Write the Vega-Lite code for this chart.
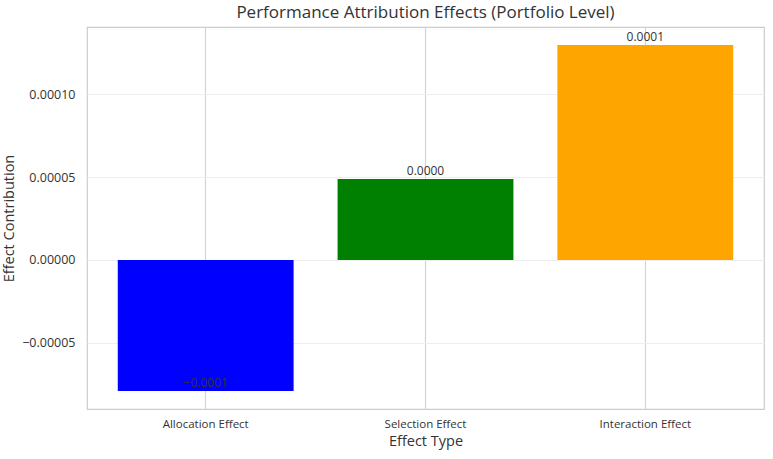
{
  "$schema": "https://vega.github.io/schema/vega-lite/v6.json",
  "width": 677,
  "height": 382,
  "autosize": {"type": "none"},
  "padding": {"left": 87, "top": 27, "right": 9, "bottom": 50},
  "background": "white",
  "config": {
    "font": "Open Sans",
    "view": {"stroke": "#cccccc", "strokeWidth": 1.2},
    "axis": {"domain": false, "ticks": false, "labelColor": "#333333", "titleColor": "#333333", "labelFontSize": 11.5, "titleFontSize": 14.5, "titleFontWeight": "normal"},
    "axisX": {"gridColor": "#d4d4d4", "gridWidth": 1.2},
    "axisY": {"gridColor": "#eeeeee", "gridWidth": 1, "labelFontSize": 12.5}
  },
  "title": {"text": "Performance Attribution Effects (Portfolio Level)", "fontSize": 17, "fontWeight": "normal", "color": "#333333", "offset": 5},
  "data": {"values": [
    {"effect": "Allocation Effect", "value": -0.0000789, "color": "#0000ff"},
    {"effect": "Selection Effect", "value": 0.0000488, "color": "#008000"},
    {"effect": "Interaction Effect", "value": 0.0001295, "color": "#ffa500"}
  ]},
  "encoding": {
    "x": {"field": "effect", "type": "nominal", "sort": null,
      "scale": {"paddingInner": 0.2, "paddingOuter": 0.14},
      "axis": {"title": "Effect Type", "labelAngle": 0, "grid": true, "bandPosition": 0.5, "labelPadding": 9, "titlePadding": 5}},
    "y": {"field": "value", "type": "quantitative",
      "scale": {"domain": [-0.0000898, 0.0001404], "nice": false, "zero": false},
      "axis": {"title": "Effect Contribution", "values": [-0.00005, 0, 0.00005, 0.0001], "format": ".5f", "labelPadding": 12, "titlePadding": 5}}
  },
  "layer": [
    {"mark": {"type": "bar"}, "encoding": {"color": {"field": "color", "type": "nominal", "scale": null}}},
    {"mark": {"type": "text", "baseline": "bottom", "dy": -1, "fontSize": 12, "color": "#333333"},
      "encoding": {"text": {"field": "value", "type": "quantitative", "format": ".4f"}}}
  ]
}
